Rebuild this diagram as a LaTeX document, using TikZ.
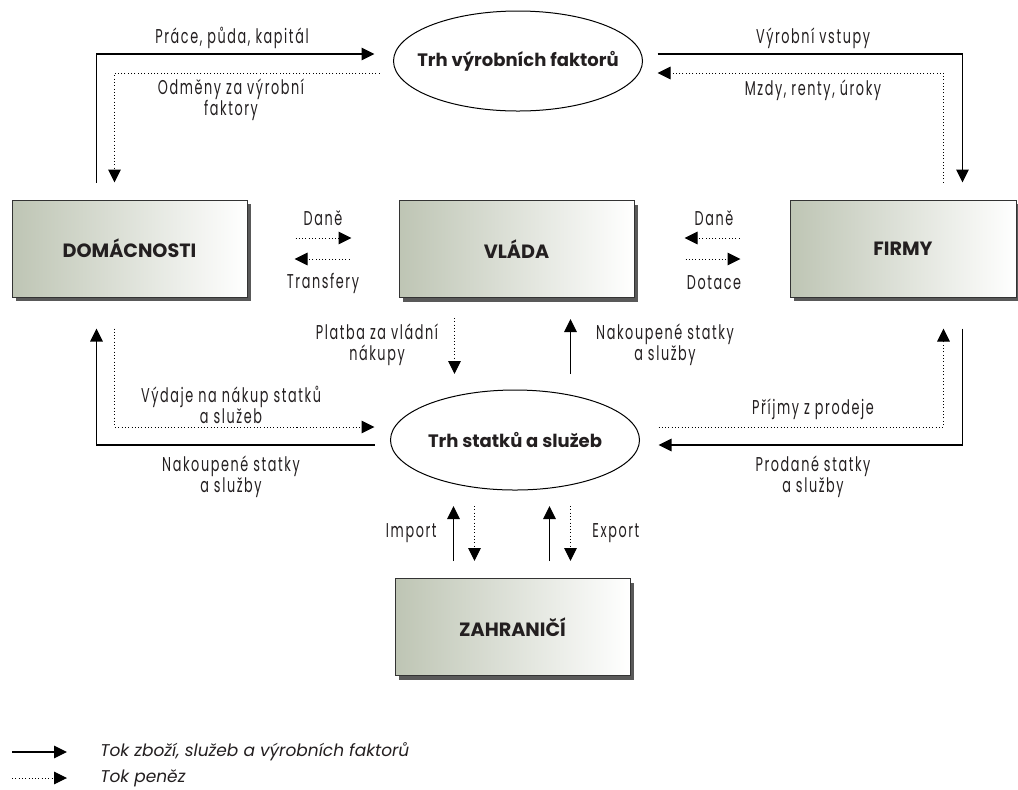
\documentclass[tikz,border=0pt]{standalone}
\usepackage{fontspec}
\setmainfont{Poppins}
\newfontfamily\condfont[FakeStretch=0.64,LetterSpace=8]{Poppins}
\usetikzlibrary{shapes.geometric,shadows,calc,arrows.meta}

\definecolor{sectorgreen}{RGB}{190,197,180}
\definecolor{inkgray}{RGB}{35,31,32}

\newcommand{\mktext}[1]{\makebox[0pt]{#1}}

\tikzset{
  sector/.style={draw=black!80, line width=0.5pt, left color=sectorgreen, right color=white,
    minimum width=117.5pt, minimum height=48.5pt, text=inkgray,
    font=\bfseries\fontsize{9.6}{11}\selectfont,
    drop shadow={shadow xshift=2pt, shadow yshift=-2pt, fill=black!65, opacity=1}},
  market/.style={ellipse, draw, line width=0.5pt, inner sep=0pt, outer sep=0pt,
    minimum width=124.5pt, minimum height=50pt,
    text=inkgray, font=\bfseries\fontsize{9}{11}\selectfont},
  goods/.style={line width=0.65pt, -{Triangle[length=6.5pt,width=6.3pt]}},
  money/.style={line width=0.5pt, dash pattern={on 0.5pt off 1.15pt}, -{Triangle[length=6.5pt,width=6.3pt]}},
  lbl/.style={font=\condfont\fontsize{10}{10.5}\selectfont, align=center, inner sep=0pt, text=inkgray},
  legendtext/.style={font=\itshape\fontsize{8.5}{10}\selectfont, anchor=west, inner sep=0pt, text=inkgray}
}

\begin{document}
\begin{tikzpicture}[x=0.5pt,y=0.5pt,yscale=-1,xscale=1]
	\useasboundingbox (0,0) rectangle (1018,789);
	
	%Shape: Ellipse [markets]
	\node[market] (fmarket) at (518,61) {\mktext{Trh výrobních faktorů}};
	\node[market] (gmarket) at (515,440) {\mktext{Trh statků a služeb}};
	%Shape: Rectangle [sectors]
	\node[sector] (dom) at (129.5,248.5) {DOMÁCNOSTI};
	\node[sector] (gov) at (516.5,249) {VLÁDA};
	\node[sector, minimum width=113pt] (firm) at (903,248.5) {FIRMY};
	\node[sector] (abroad) at (512.5,627) {ZAHRANIČÍ};
	
	%Straight Lines [factor market]
	\draw[goods] ($(dom.north west)+(85,-17)$) |- ($(fmarket.west)+(-19,-7)$);
	\draw[money] ($(fmarket.west)+(-14,12)$) -| ($(dom.north west)+(103,-17)$);
	\draw[goods] ($(fmarket.east)+(15,-7)$) -| ($(firm.north west)+(173,-17)$);
	\draw[money] ($(firm.north west)+(154,-17)$) |- ($(fmarket.east)+(15,12)$);
	%Straight Lines [goods market]
	\draw[goods] ($(gmarket.west)+(-16,5)$) -| ($(dom.south west)+(85,31)$);
	\draw[money] ($(dom.south west)+(103,31)$) |- ($(gmarket.west)+(-16,-13)$);
	\draw[goods] ($(firm.south west)+(173,31)$) |- ($(gmarket.east)+(19,5)$);
	\draw[money] ($(gmarket.east)+(19,-13)$) -| ($(firm.south west)+(154,31)$);
	%Straight Lines [government]
	\draw[money] ($(gov.south west)+(56,20)$) -- ++(0,56);
	\draw[goods] ($(gov.south west)+(172,76)$) -- ++(0,-55);
	\draw[money] ($(dom.east)+(48,-10.5)$) -- ++(56,0);
	\draw[money] ($(gov.west)+(-49,10)$) -- ++(-55,0);
	\draw[money] ($(firm.west)+(-50,-10.5)$) -- ++(-55,0);
	\draw[money] ($(gov.east)+(51,10)$) -- ++(55,0);
	%Straight Lines [abroad]
	\draw[goods] ($(abroad.north west)+(59,-17)$) -- ++(0,-55);
	\draw[money] ($(abroad.north west)+(80,-72)$) -- ++(0,55);
	\draw[goods] ($(abroad.north west)+(155,-17)$) -- ++(0,-55);
	\draw[money] ($(abroad.north west)+(176,-72)$) -- ++(0,55);
	
	% Text Node
	\node[lbl] (inputs) at (232,38) {Práce, půda, kapitál};
	% Text Node
	\node[lbl] (rewards) at (231,100) {Odměny za výrobní\\faktory};
	% Text Node
	\node[lbl] (prodin) at (813,38) {Výrobní vstupy};
	% Text Node
	\node[lbl] (wages) at (813,90) {Mzdy, renty, úroky};
	% Text Node
	\node[lbl] (taxh) at (323,218) {Daně};
	% Text Node
	\node[lbl] (transf) at (323,283) {Transfery};
	% Text Node
	\node[lbl] (taxf) at (714,218) {Daně};
	% Text Node
	\node[lbl] (subs) at (714,283) {Dotace};
	% Text Node
	\node[lbl] (govpay) at (377,345) {Platba za vládní\\nákupy};
	% Text Node
	\node[lbl] (govbuy) at (665,345) {Nakoupené statky\\a služby};
	% Text Node
	\node[lbl] (spend) at (231,405) {Výdaje na nákup statků\\a služeb};
	% Text Node
	\node[lbl] (hhbuy) at (231,477) {Nakoupené statky\\a služby};
	% Text Node
	\node[lbl] (revenue) at (813,409) {Příjmy z prodeje};
	% Text Node
	\node[lbl] (sold) at (813,477) {Prodané statky\\a služby};
	% Text Node
	\node[lbl, anchor=east] (import) at (437,533) {Import};
	% Text Node
	\node[lbl, anchor=west] (export) at (592,533) {Export};
	
	%Legend
	\coordinate (leg1) at (12,752);
	\coordinate (leg2) at (12,778);
	\draw[goods] (leg1) -- ++(55,0);
	\draw[money] (leg2) -- ++(55,0);
	\node[legendtext] (legt1) at (100,752) {Tok zboží, služeb a výrobních faktorů};
	\node[legendtext] (legt2) at (100,778) {Tok peněz};
	
\end{tikzpicture}
\end{document}
